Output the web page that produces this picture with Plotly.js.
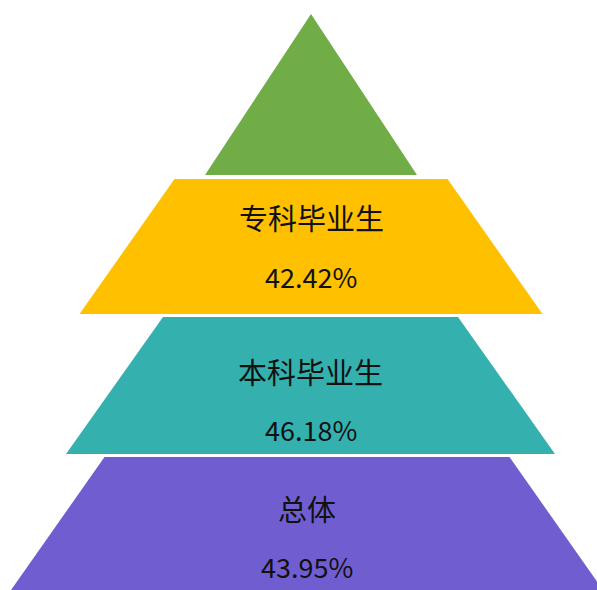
<!DOCTYPE html>
<html>
<head>
<meta charset="utf-8">
<script src="https://cdn.plot.ly/plotly-3.0.1.min.js"></script>
<style>html,body{margin:0;padding:0;background:#fff;}#chart{width:597px;height:590px;}</style>
</head>
<body>
<div id="chart"></div>
<script>
// ---- data ----
const levels = ['', '专科毕业生', '本科毕业生', '总体'];
const rates = [null, 42.42, 46.18, 43.95];
const colors = ['#70AD47', '#FFC000', '#34B1AE', '#705ED0'];

// ---- pyramid layout (diagram geometry, in plot units) ----
const bandTop = [14, 179, 317, 457];
const bandBottom = [175, 314, 454, 600];
const topHalf = [0, 136.5, 147.5, 202.5];
const bottomHalf = [106, 231.5, 244.5, 303];
const centerX = [311, 311, 310.5, 307];
const labelOffset = [0, 38, 54, 51];
const valueOffset = [0, 97, 112, 109];

const traces = [];
const annotations = [];
const labelFont = {family: '"Noto Sans CJK SC", "Noto Sans", sans-serif', size: 29, color: '#111111'};
const valueFont = {family: '"Noto Sans CJK SC", "Noto Sans", sans-serif', size: 27, color: '#111111'};

levels.forEach((name, i) => {
  const cx = centerX[i];
  traces.push({
    type: 'scatter',
    mode: 'lines',
    x: [cx - topHalf[i], cx + topHalf[i], cx + bottomHalf[i], cx - bottomHalf[i], cx - topHalf[i]],
    y: [bandTop[i], bandTop[i], bandBottom[i], bandBottom[i], bandTop[i]],
    fill: 'toself',
    fillcolor: colors[i],
    line: {width: 0, color: colors[i]},
    hoverinfo: 'skip',
    showlegend: false
  });
  if (name) {
    annotations.push({x: cx, y: bandTop[i] + labelOffset[i], xref: 'x', yref: 'y',
      text: name, showarrow: false, font: labelFont, xanchor: 'center', yanchor: 'middle'});
    annotations.push({x: cx, y: bandTop[i] + valueOffset[i], xref: 'x', yref: 'y',
      text: rates[i].toFixed(2) + '%', showarrow: false, font: valueFont, xanchor: 'center', yanchor: 'middle'});
  }
});

const layout = {
  width: 597, height: 590,
  margin: {l: 0, r: 0, t: 0, b: 0},
  paper_bgcolor: '#ffffff', plot_bgcolor: '#ffffff',
  xaxis: {range: [0, 597], visible: false, fixedrange: true},
  yaxis: {range: [590, 0], visible: false, fixedrange: true},
  annotations: annotations,
  showlegend: false
};

Plotly.newPlot('chart', traces, layout, {displayModeBar: false, staticPlot: true});
</script>
</body>
</html>
